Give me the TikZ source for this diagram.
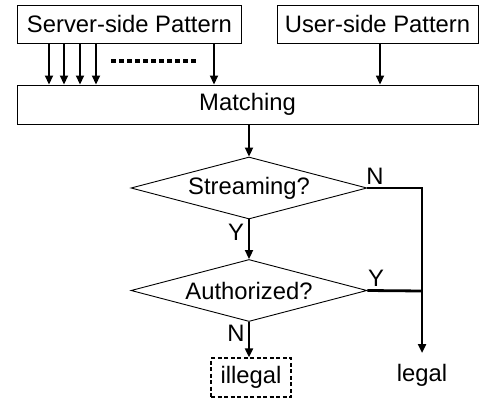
\documentclass[tikz,border=0pt]{standalone}
\usepackage{fontspec}
\setmainfont{Liberation Sans}
\usetikzlibrary{shapes.geometric,arrows.meta}
\begin{document}
\begin{tikzpicture}[x=1pt,y=-1pt,
  every node/.style={font=\fontsize{23.8}{28}\selectfont},
  box/.style={draw,line width=0.9pt,inner sep=0pt},
  decision/.style={draw,diamond,line width=0.9pt,inner sep=0pt,
    minimum width=236pt,minimum height=62pt,shape aspect=3.8},
  flow/.style={line width=2pt,-{Triangle[length=9pt,width=8pt]}},
  feed/.style={line width=1.7pt,-{Triangle[length=9pt,width=8pt]}},
  edge label/.style={inner sep=0pt}]
\useasboundingbox (0,0) rectangle (479,401);

% pattern sources and matching stage
\node[box,minimum width=224pt,minimum height=38pt] (server) at (129.5,24) {Server-side Pattern};
\node[box,minimum width=201pt,minimum height=38pt] (user) at (377.5,24) {User-side Pattern};
\node[box,minimum width=461pt,minimum height=39pt] (match) at (247.5,104.5) {Matching};

% inputs from the server-side pattern
\foreach \x in {49,64,80,96,214}
  \draw[feed] (server.south -| \x,0) -- (match.north -| \x,0);
\draw[line width=4pt,dash pattern=on 5pt off 3pt] (111,61) -- (196,61);
\draw[feed] (user.south -| 380,0) -- (match.north -| 380,0);

% decisions
\node[decision] (stream) at (249,188) {Streaming?};
\node[decision] (auth) at (249,290.5) {Authorized?};
\node[box,dashed,dash pattern=on 4pt off 2.5pt,line width=1.3pt,
  minimum width=80pt,minimum height=39pt] (illegal) at (251,377.5) {illegal};
\node[inner sep=0pt] (legal) at (422,375) {legal};
\coordinate (legalend) at (422,353);
\coordinate (join) at (422,291);

\draw[flow] (match.south -| stream.north) -- (stream.north);
\draw[flow] (stream.south) -- (auth.north);
\draw[flow] (auth.south) -- (auth.south |- illegal.north);
\draw[line width=2.8pt] (stream.east) -- (stream.east -| join) -- (join);
\draw[line width=2.8pt] (auth.east) -- (join);
\draw[line width=2.8pt,-{Triangle[length=9pt,width=8pt]}] (join) -- (legalend);

% branch labels
\node[edge label] at (375,176) {N};
\node[edge label] at (376,278) {Y};
\node[edge label] at (236,232) {Y};
\node[edge label] at (236,333) {N};
\end{tikzpicture}
\end{document}
